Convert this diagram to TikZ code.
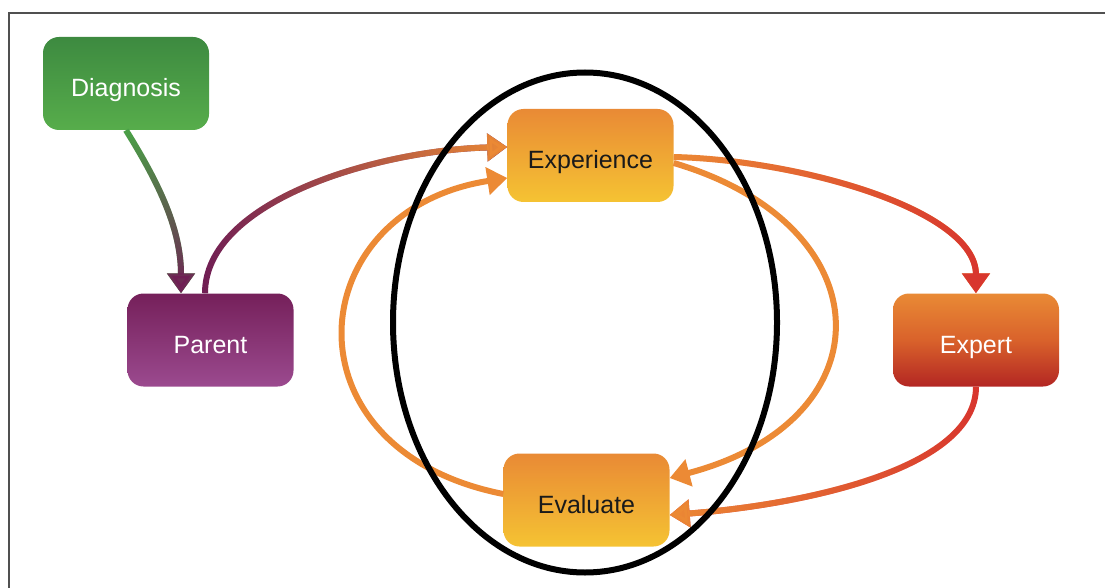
\documentclass[tikz,border=0pt]{standalone}
\usepackage{fontspec}
\setmainfont{Liberation Sans}
\usetikzlibrary{arrows.meta,fadings,shapes.geometric}
\definecolor{dgtop}{RGB}{61,138,64}
\definecolor{dgbot}{RGB}{87,173,75}
\definecolor{patop}{RGB}{117,32,90}
\definecolor{pabot}{RGB}{155,74,143}
\definecolor{ortop}{RGB}{233,138,53}
\definecolor{orbot}{RGB}{245,195,51}
\definecolor{xpmid}{RGB}{217,98,43}
\definecolor{xpbot}{RGB}{179,38,35}
\definecolor{lnorange}{RGB}{236,138,53}
\definecolor{lngreen}{RGB}{74,163,71}
\definecolor{lnpurple}{RGB}{112,30,85}
\definecolor{lnred}{RGB}{216,54,46}
\definecolor{txtdark}{RGB}{26,26,26}
\definecolor{framegray}{RGB}{80,80,80}
\begin{document}
\begin{tikzpicture}[x=1pt,y=-1pt,
  box/.style={rounded corners=16pt, minimum width=166pt, minimum height=93pt,
    inner sep=0pt, text height=27pt, text depth=0pt,
    font=\fontsize{25pt}{30pt}\selectfont},
  greenbox/.style={box, top color=dgtop, bottom color=dgbot, text=white},
  purplebox/.style={box, top color=patop, bottom color=pabot, text=white},
  orangebox/.style={box, top color=ortop, bottom color=orbot, text=txtdark},
  redbox/.style={box, top color=ortop, bottom color=xpbot, middle color=xpmid, text=white},
  conn/.style={line width=6pt, -{Triangle[width=27pt,length=20pt]}},
  loopline/.style={line width=6pt, draw=black}]
\useasboundingbox (0,0) rectangle (1105,588);
\draw[framegray, line width=1.5pt] (9,588) -- (9,13) -- (1105,13);

\node[greenbox]  (dg) at (126,83.5)  {Diagnosis};
\node[purplebox] (pa) at (210.5,340) {Parent};
\node[orangebox] (ex) at (590.5,155.5) {Experience};
\node[orangebox] (ev) at (586.5,500) {Evaluate};
\node[redbox]    (xp) at (976,340) {Expert};

% Diagnosis -> Parent
\draw[conn, lngreen] (dg.south) .. controls (160,185) and (181,230) .. ([xshift=-29.5pt]pa.north);
\draw[conn, lnpurple, path fading=north] (dg.south) .. controls (160,185) and (181,230) .. ([xshift=-29.5pt]pa.north);

% Parent -> Experience
\draw[conn, lnpurple] ([xshift=-5.5pt]pa.north) .. controls (205,200) and (380,150) .. ([yshift=8.5pt]ex.west);
\draw[conn, lnorange, path fading=west] ([xshift=-5.5pt]pa.north) .. controls (205,200) and (380,150) .. ([yshift=8.5pt]ex.west);

% Experience -> Expert
\draw[conn, lnorange] ([yshift=-1.5pt]ex.east) .. controls (800,160) and (976,210) .. (xp.north);
\draw[conn, lnred, path fading=west] ([yshift=-1.5pt]ex.east) .. controls (800,160) and (976,210) .. (xp.north);

% Expert -> Evaluate
\draw[conn, lnred] (xp.south) .. controls (976,470) and (800,505) .. ([yshift=-15pt]ev.east);
\draw[conn, lnorange, path fading=east] (xp.south) .. controls (976,470) and (800,505) .. ([yshift=-15pt]ev.east);

% Experience -> Evaluate (right loop)
\draw[conn, lnorange] ([yshift=-7.5pt]ex.east) .. controls (885,225) and (890,420) .. ([yshift=22pt]ev.east);

% Evaluate -> Experience (left loop)
\draw[conn, lnorange] ([yshift=6pt]ev.west) .. controls (280,450) and (300,210) .. ([yshift=-22.5pt]ex.west);

% focus ellipse
\node[loopline, ellipse, minimum width=384pt, minimum height=500pt, inner sep=0pt] (focus) at (585,322.5) {};
\end{tikzpicture}
\end{document}
